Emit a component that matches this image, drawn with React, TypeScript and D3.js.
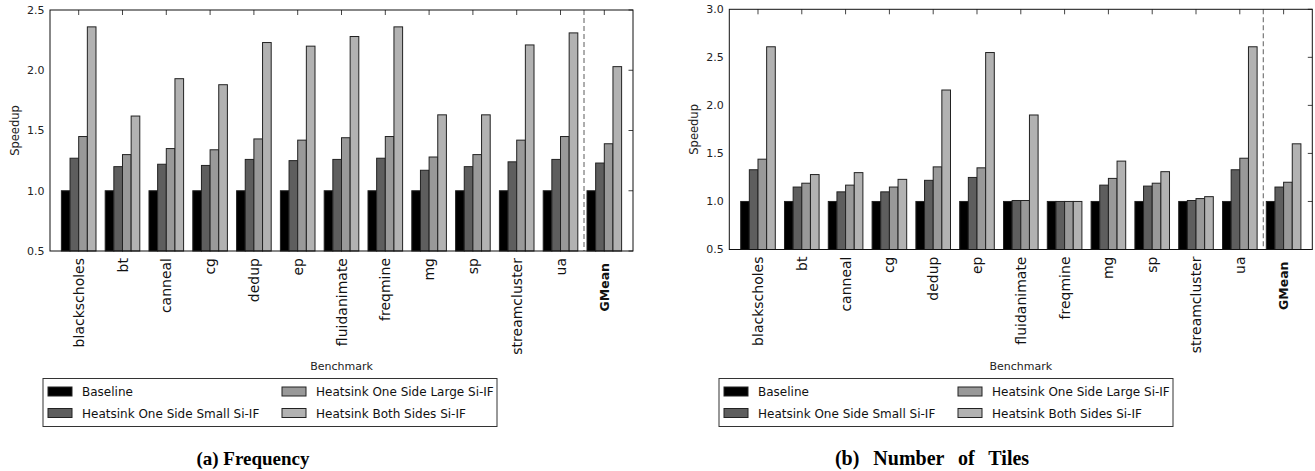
import React from "react";
import * as d3 from "d3";

const benchmarks = [
  "blackscholes",
  "bt",
  "canneal",
  "cg",
  "dedup",
  "ep",
  "fluidanimate",
  "freqmine",
  "mg",
  "sp",
  "streamcluster",
  "ua",
  "GMean",
];

const seriesNames = [
  "Baseline",
  "Heatsink One Side Small Si-IF",
  "Heatsink One Side Large Si-IF",
  "Heatsink Both Sides Si-IF",
];
const seriesColors = ["#000000", "#5e5e5e", "#999999", "#b2b2b2"];

// (a) Frequency
const freqBaseline = [1, 1, 1, 1, 1, 1, 1, 1, 1, 1, 1, 1, 1];
const freqSmall = [1.27, 1.2, 1.22, 1.21, 1.26, 1.25, 1.26, 1.27, 1.17, 1.2, 1.24, 1.26, 1.23];
const freqLarge = [1.45, 1.3, 1.35, 1.34, 1.43, 1.42, 1.44, 1.45, 1.28, 1.3, 1.42, 1.45, 1.39];
const freqBoth = [2.36, 1.62, 1.93, 1.88, 2.23, 2.2, 2.28, 2.36, 1.63, 1.63, 2.21, 2.31, 2.03];
const freqTicks = [0.5, 1.0, 1.5, 2.0, 2.5];

// (b) Number of Tiles
const tilesBaseline = [1, 1, 1, 1, 1, 1, 1, 1, 1, 1, 1, 1, 1];
const tilesSmall = [1.33, 1.15, 1.1, 1.1, 1.22, 1.25, 1.01, 1.0, 1.17, 1.16, 1.01, 1.33, 1.15];
const tilesLarge = [1.44, 1.19, 1.17, 1.15, 1.36, 1.35, 1.01, 1.0, 1.24, 1.19, 1.03, 1.45, 1.2];
const tilesBoth = [2.61, 1.28, 1.3, 1.23, 2.16, 2.55, 1.9, 1.0, 1.42, 1.31, 1.05, 2.61, 1.6];
const tilesTicks = [0.5, 1.0, 1.5, 2.0, 2.5, 3.0];

const sans = "'DejaVu Sans', sans-serif";

function Panel({ left, top, bottom, series, ticks, legendLeft, caption, captionX, captionSize, wordSpacing }) {
  const width = 583;
  const x = d3
    .scaleBand()
    .domain(benchmarks)
    .range([left, left + width])
    .paddingInner(0.21)
    .paddingOuter(0.26);
  const inner = d3
    .scaleBand()
    .domain(d3.range(series.length))
    .range([0, x.bandwidth()]);
  const y = d3
    .scaleLinear()
    .domain([ticks[0], ticks[ticks.length - 1]])
    .range([bottom, top]);
  const fmt = d3.format(".1f");
  const dashX = x("GMean") - 3;

  return (
    <g>
      {/* bars */}
      {benchmarks.map((b, i) => (
        <g key={b}>
          {series.map((s, j) => (
            <rect
              key={j}
              x={x(b) + inner(j)}
              y={y(s[i])}
              width={inner.bandwidth()}
              height={y(ticks[0]) - y(s[i])}
              fill={seriesColors[j]}
              stroke="#222"
              strokeWidth={1}
            />
          ))}
        </g>
      ))}

      {/* separator */}
      <line x1={dashX} x2={dashX} y1={top} y2={bottom} stroke="#777" strokeWidth={1.2} strokeDasharray="5,3" />

      {/* ticks on top and right */}
      {benchmarks.map((b) => (
        <line
          key={b}
          x1={x(b) + x.bandwidth() / 2}
          x2={x(b) + x.bandwidth() / 2}
          y1={top}
          y2={top + 5}
          stroke="#444"
        />
      ))}
      {ticks.map((t) => (
        <line key={t} x1={left + width - 4.5} x2={left + width} y1={y(t)} y2={y(t)} stroke="#444" />
      ))}

      {/* frame */}
      <rect x={left} y={top} width={width} height={bottom - top} fill="none" stroke="#111" strokeWidth={1} />

      {/* y tick labels */}
      {ticks.map((t) => (
        <text
          key={t}
          x={left - 5.5}
          y={y(t)}
          dy="0.36em"
          textAnchor="end"
          fontFamily={sans}
          fontSize={11}
          fill="#222"
        >
          {fmt(t)}
        </text>
      ))}
      <text
        transform={`translate(${left - 31.5},${(top + bottom) / 2}) rotate(-90)`}
        textAnchor="middle"
        fontFamily={sans}
        fontSize={11.5}
        fill="#222"
      >
        Speedup
      </text>

      {/* x tick labels */}
      {benchmarks.map((b) => (
        <text
          key={b}
          transform={`translate(${x(b) + x.bandwidth() / 2},${bottom + (b === "GMean" ? 12 : 7)}) rotate(-90)`}
          textAnchor="end"
          dy="0.36em"
          fontFamily={sans}
          fontSize={b === "GMean" ? 12.5 : 14}
          fontWeight={b === "GMean" ? "bold" : "normal"}
          fill="#111"
        >
          {b}
        </text>
      ))}
      <text
        x={left + width / 2}
        y={370}
        textAnchor="middle"
        fontFamily={sans}
        fontSize={11}
        fill="#222"
      >
        Benchmark
      </text>

      {/* legend */}
      <rect x={legendLeft} y={378.5} width={454} height={48} fill="#fff" stroke="#333" strokeWidth={1} />
      {seriesNames.map((name, k) => {
        const col = Math.floor(k / 2);
        const row = k % 2;
        const sx = legendLeft + 5 + col * 234;
        const sy = 387 + row * 21.5;
        return (
          <g key={name}>
            <rect x={sx} y={sy} width={24} height={9} fill={seriesColors[k]} stroke="#222" />
            <text x={sx + 34} y={sy + 9} fontFamily={sans} fontSize={12} fill="#111">
              {name}
            </text>
          </g>
        );
      })}

      {/* caption */}
      <text
        x={captionX}
        y={465}
        textAnchor="middle"
        fontFamily="'Liberation Serif', 'Times New Roman', serif"
        fontWeight="bold"
        fontSize={captionSize}
        wordSpacing={wordSpacing}
        fill="#000"
      >
        {caption}
      </text>
    </g>
  );
}

export default function App() {
  return (
    <svg
      width={1315}
      height={471}
      style={{ position: "absolute", left: 0, top: 0, background: "#fff" }}
    >
      <Panel
        left={50}
        top={10}
        bottom={251}
        series={[freqBaseline, freqSmall, freqLarge, freqBoth]}
        ticks={freqTicks}
        legendLeft={43}
        caption="(a) Frequency"
        captionX={253}
        captionSize={19}
        wordSpacing={0}
      />
      <Panel
        left={729.3}
        top={9.3}
        bottom={249.5}
        series={[tilesBaseline, tilesSmall, tilesLarge, tilesBoth]}
        ticks={tilesTicks}
        legendLeft={719}
        caption="(b) Number of Tiles"
        captionX={932}
        captionSize={20}
        wordSpacing={9}
      />
    </svg>
  );
}
